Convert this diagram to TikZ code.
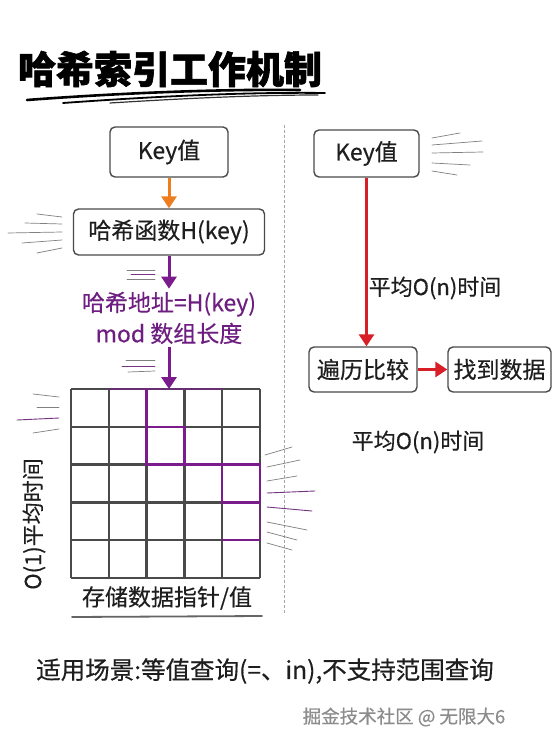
\documentclass[tikz,border=0pt]{standalone}
\usepackage{fontspec}
\setmainfont{Noto Sans CJK SC}[FakeBold=0.35, BoldFeatures={FakeBold=1.6}]
\usetikzlibrary{arrows.meta}
\definecolor{boxline}{HTML}{4A4A4A}
\definecolor{txt}{HTML}{1E1E1E}
\definecolor{orangeA}{HTML}{EE7D1E}
\definecolor{purpA}{HTML}{7A1C8C}
\definecolor{purpT}{HTML}{6E1E80}
\definecolor{redA}{HTML}{D81E26}
\definecolor{speed}{HTML}{6A6A6A}
\definecolor{wm}{HTML}{8C8C8C}
\begin{document}
\begin{tikzpicture}[x=1pt,y=-1pt,
  box/.style={draw=boxline, line width=1.4pt, rounded corners=5pt, fill=white, text=txt,
    font=\fontsize{23}{27}\selectfont, inner sep=0pt},
  arr/.style={line width=3pt, -{Triangle[length=12pt,width=15pt]}},
  speedl/.style={draw=speed!85, line width=0.7pt, line cap=round},
  speedp/.style={draw=purpA!70!speed, line width=0.9pt, line cap=round},
  gridl/.style={draw=boxline, line width=2.4pt},
  purp/.style={draw=purpA, line width=2.4pt},
  lbl/.style={text=txt, font=\fontsize{22}{26}\selectfont, inner sep=0pt}]
\useasboundingbox (0,0) rectangle (558,746);
\fill[white] (0,0) rectangle (558,746);

% title
\node[text=black, font=\fontsize{38}{40}\selectfont\bfseries, inner sep=0pt] (title) at (170,69) {哈希索引工作机制};
\draw[black, line width=2.6pt, line cap=round] (27,100) .. controls (120,93) and (220,89) .. (300,90);
\draw[black, line width=1.8pt, line cap=round] (63,103) .. controls (160,96) and (250,92) .. (325,93);
\draw[black!80, line width=1.2pt, line cap=round] (110,103) .. controls (190,98) and (260,95) .. (318,95);

% divider
\coordinate (dvt) at (284,125);
\coordinate (dvb) at (284,615);
\draw[gray!70, line width=0.9pt, dash pattern=on 3pt off 2pt] (dvt) -- (dvb);

% left column
\node[box, minimum width=118pt, minimum height=50pt] (k1) at (169,152) {Key值};
\node[box, minimum width=191pt, minimum height=46pt] (hk) at (169,232) {哈希函数H(key)};
\node[text=purpT, font=\fontsize{23}{31}\selectfont, align=center, inner sep=3pt] (addr) at (169,318) {哈希地址=H(key)\\mod 数组长度};
\coordinate (gt) at (169,389);

\draw[arr, orangeA] (k1.south) -- (hk.north);
\draw[arr, purpA] (hk.south) -- (addr.north);
\draw[arr, purpA] (addr.south) -- (gt);

% grid
\foreach \v in {71,108.8,146.6,184.4,222.2,260} {
  \draw[gridl] (\v,389) -- (\v,578);
}
\foreach \h in {389,426.8,464.6,502.4,540.2,578} {
  \draw[gridl] (71,\h) -- (260,\h);
}
\draw[draw=purpA!60!boxline, line width=2.4pt] (108.8,389) -- (222.2,389);
\draw[purp] (146.6,389) -- (146.6,464.6) -- (260,464.6) -- (260,502.4) -- (222.2,502.4) -- (222.2,464.6);
\draw[purp] (146.6,426.8) -- (184.4,426.8) -- (184.4,464.6);
\draw[draw=purpA!55!boxline, line width=2.4pt] (260,502.4) -- (260,540.2);
\draw[purp] (222.2,540.2) -- (260,540.2);

\node[lbl, rotate=90] (o1) at (34,524) {O(1)平均时间};
\node[lbl, font=\fontsize{23}{27}\selectfont] (store) at (167,598) {存储数据指针/值};
\draw[boxline!85, line width=1.8pt, line cap=round] (72,617) -- (262,616);

% speed lines
\draw[speedl] (37,214) -- (62,217);
\draw[speedl] (25,223) -- (62,224);
\draw[speedl] (8,233) -- (62,232);
\draw[speedl] (22,243) -- (62,240);
\draw[speedl] (37,253) -- (62,248);

\draw[speedl] (127,270) -- (155,270);
\draw[speedp] (131,274) -- (155,274);
\draw[speedl] (127,279) -- (155,279);

\draw[speedl] (126,360) -- (155,360);
\draw[speedp] (122,366) -- (155,366);
\draw[speedl] (128,372) -- (155,371);

\draw[speedl] (432,138) -- (460,133);
\draw[speedl] (432,145) -- (482,141);
\draw[speedl] (432,153) -- (483,152);
\draw[speedl] (432,163) -- (470,165);
\draw[speedl] (432,171) -- (457,175);

\draw[speedl] (33,394) -- (59,397);
\draw[speedl] (37,407) -- (59,407);
\draw[speedp] (17,420) -- (59,418);
\draw[speedl] (33,433) -- (59,429);

\draw[speedl] (265,455) -- (292,447);
\draw[speedl] (267,467) -- (300,460);
\draw[speedl] (267,481) -- (297,476);
\draw[speedp] (267,493) -- (315,491);
\draw[speedp] (267,507) -- (312,511);
\draw[speedl] (267,522) -- (307,530);
\draw[speedl] (267,532) -- (297,540);
\draw[speedl] (267,543) -- (292,550);

% right column
\node[box, minimum width=105pt, minimum height=47pt] (k2) at (366.5,153.5) {Key值};
\node[box, minimum width=108pt, minimum height=45pt] (tr) at (363,369.5) {遍历比较};
\node[box, minimum width=103pt, minimum height=45pt] (fd) at (499.5,369.5) {找到数据};
\draw[arr, redA] (k2.south) -- (k2.south |- tr.north);
\draw[arr, redA] (tr.east) -- (fd.west);
\node[lbl] (on1) at (435,288) {平均O(n)时间};
\node[lbl] (on2) at (418,442) {平均O(n)时间};

% bottom
\node[text=txt, font=\fontsize{24.5}{28}\selectfont, inner sep=0pt] (scene) at (265,671) {适用场景:等值查询(=、in),不支持范围查询};
\node[text=wm, font=\fontsize{18.5}{20}\selectfont, inner sep=0pt] (wmk) at (404,717) {掘金技术社区 @ 无限大6};
\end{tikzpicture}
\end{document}
